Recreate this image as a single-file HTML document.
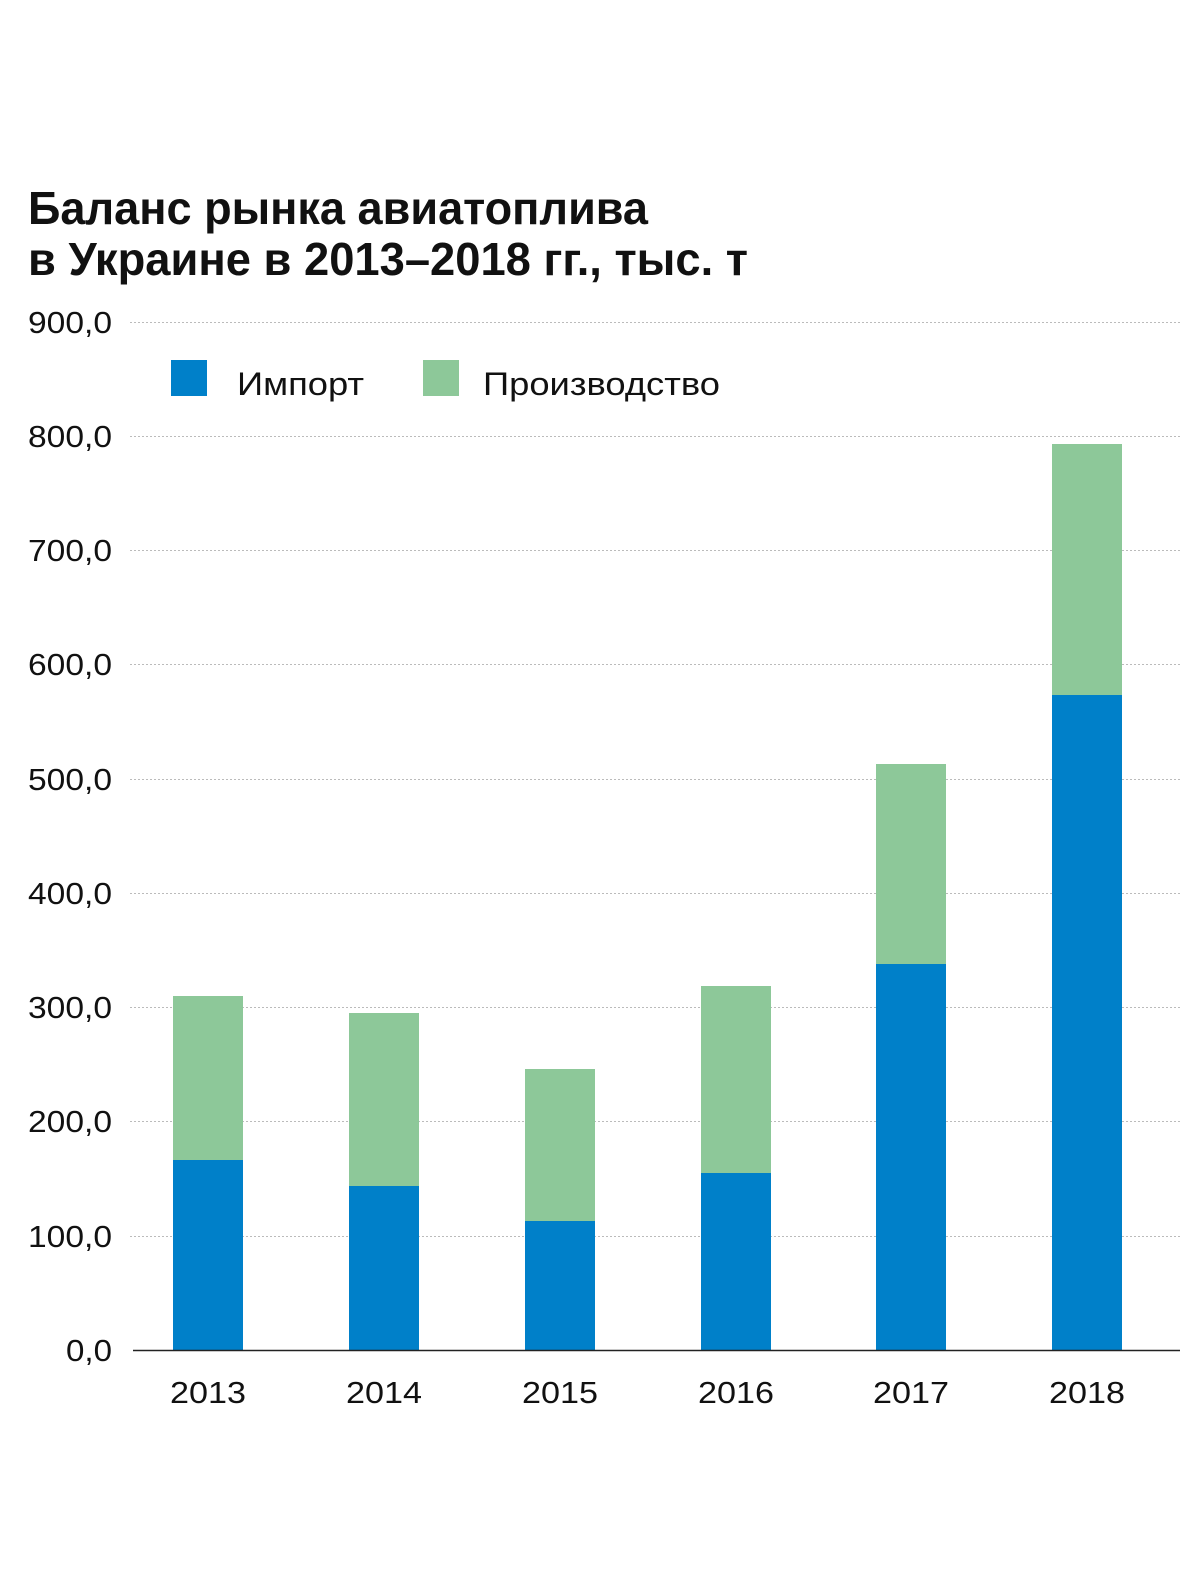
<!DOCTYPE html>
<html><head><meta charset="utf-8"><style>html,body{margin:0;padding:0;background:#fff}</style></head>
<body>
<svg width="1200" height="1568" viewBox="0 0 1200 1568" xmlns="http://www.w3.org/2000/svg" font-family="Liberation Sans, sans-serif" fill="#111">
<text x="28" y="224" font-size="46" font-weight="bold" textLength="620" lengthAdjust="spacingAndGlyphs">Баланс рынка авиатоплива</text>
<text x="28" y="275" font-size="46" font-weight="bold" textLength="720" lengthAdjust="spacingAndGlyphs">в Украине в 2013–2018 гг., тыс. т</text>
<g stroke="#bbb" stroke-width="1" stroke-dasharray="2,2">
<line x1="130" x2="1180" y1="322.5" y2="322.5"/><line x1="130" x2="1180" y1="436.5" y2="436.5"/><line x1="130" x2="1180" y1="550.5" y2="550.5"/><line x1="130" x2="1180" y1="664.5" y2="664.5"/><line x1="130" x2="1180" y1="779.5" y2="779.5"/><line x1="130" x2="1180" y1="893.5" y2="893.5"/><line x1="130" x2="1180" y1="1007.5" y2="1007.5"/><line x1="130" x2="1180" y1="1121.5" y2="1121.5"/><line x1="130" x2="1180" y1="1236.5" y2="1236.5"/>
</g>
<g font-size="31" text-anchor="end">
<text x="112" y="333" textLength="84" lengthAdjust="spacingAndGlyphs">900,0</text>
<text x="112" y="447" textLength="84" lengthAdjust="spacingAndGlyphs">800,0</text>
<text x="112" y="561" textLength="84" lengthAdjust="spacingAndGlyphs">700,0</text>
<text x="112" y="675" textLength="84" lengthAdjust="spacingAndGlyphs">600,0</text>
<text x="112" y="790" textLength="84" lengthAdjust="spacingAndGlyphs">500,0</text>
<text x="112" y="904" textLength="84" lengthAdjust="spacingAndGlyphs">400,0</text>
<text x="112" y="1018" textLength="84" lengthAdjust="spacingAndGlyphs">300,0</text>
<text x="112" y="1132" textLength="84" lengthAdjust="spacingAndGlyphs">200,0</text>
<text x="112" y="1247" textLength="84" lengthAdjust="spacingAndGlyphs">100,0</text>
<text x="112" y="1361" textLength="46" lengthAdjust="spacingAndGlyphs">0,0</text>
</g>
<rect x="171" y="360" width="36" height="36" fill="#0080c9"/>
<text x="237" y="395" font-size="32" textLength="127" lengthAdjust="spacingAndGlyphs">Импорт</text>
<rect x="423" y="360" width="36" height="36" fill="#8dc899"/>
<text x="483" y="395" font-size="32" textLength="237" lengthAdjust="spacingAndGlyphs">Производство</text>
<g fill="#8dc899">
<rect x="173" y="996" width="70" height="164"/><rect x="349" y="1013" width="70" height="173"/><rect x="525" y="1069" width="70" height="152"/><rect x="701" y="986" width="70" height="187"/><rect x="876" y="764" width="70" height="200"/><rect x="1052" y="444" width="70" height="251"/>
</g>
<g fill="#0080c9">
<rect x="173" y="1160" width="70" height="190"/><rect x="349" y="1186" width="70" height="164"/><rect x="525" y="1221" width="70" height="129"/><rect x="701" y="1173" width="70" height="177"/><rect x="876" y="964" width="70" height="386"/><rect x="1052" y="695" width="70" height="655"/>
</g>
<line x1="133" x2="1180" y1="1350.5" y2="1350.5" stroke="#222" stroke-width="1.5"/>
<g font-size="31" text-anchor="middle">
<text x="208" y="1403" textLength="76" lengthAdjust="spacingAndGlyphs">2013</text>
<text x="384" y="1403" textLength="76" lengthAdjust="spacingAndGlyphs">2014</text>
<text x="560" y="1403" textLength="76" lengthAdjust="spacingAndGlyphs">2015</text>
<text x="736" y="1403" textLength="76" lengthAdjust="spacingAndGlyphs">2016</text>
<text x="911" y="1403" textLength="76" lengthAdjust="spacingAndGlyphs">2017</text>
<text x="1087" y="1403" textLength="76" lengthAdjust="spacingAndGlyphs">2018</text>
</g>
</svg>
</body></html>
